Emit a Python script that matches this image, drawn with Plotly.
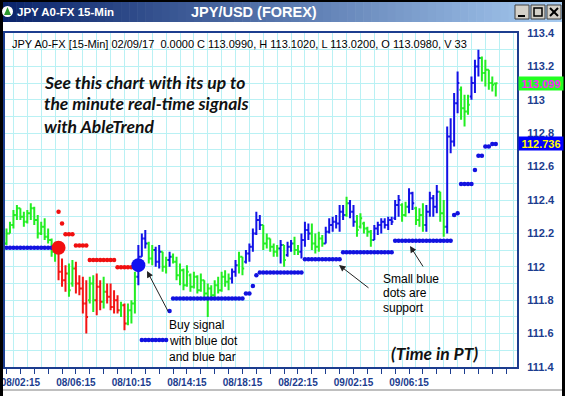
import plotly.graph_objects as go

# ---------------- data ----------------
highs = [112.23, 112.27, 112.34, 112.37, 112.35, 112.33, 112.34, 112.38, 112.36, 112.31,
         112.27, 112.29, 112.23, 112.17, 112.15, 112.11, 112.05, 112.01, 112.02, 112.04,
         112.03, 111.95, 111.94, 111.92, 111.94, 111.95, 111.96, 111.92, 111.94, 111.90,
         111.90, 111.86, 111.83, 111.79, 111.78, 111.78, 111.80, 111.97, 112.13, 112.20,
         112.22, 112.15, 112.13, 112.12, 112.13, 112.09, 112.06, 112.09, 112.08, 112.06,
         112.02, 111.99, 112.01, 111.96, 111.97, 111.95, 111.96, 111.92, 111.90, 111.89,
         111.92, 111.94, 111.97, 111.98, 111.96, 111.99, 112.04, 112.09, 112.06, 112.10,
         112.14, 112.23, 112.33, 112.31, 112.25, 112.20, 112.17, 112.14, 112.13, 112.16,
         112.13, 112.15, 112.16, 112.18, 112.13, 112.20, 112.27, 112.26, 112.26, 112.20,
         112.21, 112.19, 112.24, 112.29, 112.30, 112.31, 112.37, 112.37, 112.42, 112.40,
         112.37, 112.31, 112.32, 112.27, 112.24, 112.22, 112.25, 112.27, 112.29, 112.29,
         112.30, 112.30, 112.40, 112.43, 112.38, 112.39, 112.47, 112.45, 112.36, 112.35,
         112.38, 112.37, 112.45, 112.43, 112.49, 112.45, 112.40, 112.84, 112.89, 113.04,
         113.17, 113.08, 113.03, 113.03, 113.14, 113.24, 113.30, 113.26, 113.24, 113.18,
         113.14, 113.102]
lows = [112.13, 112.20, 112.23, 112.28, 112.28, 112.24, 112.26, 112.28, 112.25, 112.17,
        112.19, 112.16, 112.14, 112.06, 112.03, 111.92, 111.88, 111.85, 111.82, 111.88,
        111.84, 111.83, 111.72, 111.60, 111.78, 111.73, 111.71, 111.74, 111.75, 111.78,
        111.74, 111.72, 111.72, 111.70, 111.62, 111.65, 111.66, 111.72, 111.89, 112.06,
        112.11, 112.02, 112.01, 112.00, 111.99, 111.97, 111.96, 112.00, 112.02, 111.92,
        111.89, 111.86, 111.88, 111.85, 111.87, 111.84, 111.85, 111.82, 111.70, 111.81,
        111.82, 111.84, 111.85, 111.88, 111.86, 111.90, 111.94, 111.96, 111.95, 112.02,
        112.03, 112.09, 112.19, 112.22, 112.10, 112.11, 112.09, 112.06, 112.06, 112.02,
        112.00, 112.06, 112.09, 112.07, 112.07, 112.05, 112.12, 112.16, 112.10, 112.08,
        112.09, 112.12, 112.14, 112.20, 112.21, 112.23, 112.21, 112.28, 112.30, 112.29,
        112.24, 112.18, 112.23, 112.20, 112.18, 112.12, 112.16, 112.19, 112.20, 112.23,
        112.22, 112.25, 112.28, 112.30, 112.27, 112.30, 112.32, 112.34, 112.25, 112.24,
        112.21, 112.21, 112.30, 112.30, 112.32, 112.27, 112.18, 112.20, 112.68, 112.72,
        112.92, 112.88, 112.84, 112.91, 113.00, 113.04, 113.14, 113.11, 113.08, 113.06,
        113.05, 113.02]
opens = [112.14, 112.20, 112.25, 112.31, 112.35, 112.30, 112.27, 112.32, 112.35, 112.28,
         112.20, 112.24, 112.18, 112.16, 112.09, 112.10, 111.97, 111.92, 111.96, 111.90,
         111.99, 111.90, 111.87, 111.78, 111.80, 111.90, 111.80, 111.88, 111.79, 111.85,
         111.82, 111.76, 111.80, 111.74, 111.77, 111.66, 111.74, 111.78, 111.94, 112.06,
         112.17, 112.14, 112.05, 112.10, 112.03, 112.09, 112.00, 112.04, 112.06, 112.03,
         111.95, 111.98, 111.89, 111.95, 111.88, 111.94, 111.86, 111.92, 111.84, 111.87,
         111.83, 111.89, 111.86, 111.94, 111.91, 111.93, 111.97, 112.01, 112.06, 112.03,
         112.08, 112.12, 112.20, 112.28, 112.25, 112.14, 112.17, 112.12, 112.09, 112.11,
         112.13, 112.07, 112.12, 112.14, 112.10, 112.09, 112.16, 112.22, 112.20, 112.14,
         112.12, 112.17, 112.14, 112.21, 112.25, 112.27, 112.26, 112.33, 112.31, 112.38,
         112.33, 112.27, 112.24, 112.26, 112.23, 112.21, 112.16, 112.23, 112.25, 112.27,
         112.25, 112.28, 112.29, 112.37, 112.37, 112.31, 112.36, 112.44, 112.35, 112.28,
         112.31, 112.25, 112.33, 112.41, 112.36, 112.45, 112.32, 112.24, 112.78, 112.75,
         112.98, 113.06, 112.95, 112.93, 113.02, 113.10, 113.20, 113.25, 113.16, 113.18,
         113.10, 113.098]
closes = [112.20, 112.25, 112.31, 112.35, 112.30, 112.27, 112.32, 112.35, 112.28, 112.20,
          112.24, 112.18, 112.16, 112.09, 112.12, 111.97, 111.92, 111.96, 111.86, 111.99,
          111.90, 111.87, 111.78, 111.70, 111.90, 111.80, 111.88, 111.79, 111.85, 111.82,
          111.76, 111.80, 111.74, 111.77, 111.66, 111.74, 111.78, 111.94, 112.06, 112.17,
          112.14, 112.05, 112.10, 112.03, 112.09, 112.00, 112.04, 112.06, 112.03, 111.95,
          111.98, 111.89, 111.97, 111.88, 111.94, 111.86, 111.92, 111.84, 111.87, 111.83,
          111.89, 111.86, 111.94, 111.91, 111.93, 111.97, 112.01, 112.06, 111.99, 112.08,
          112.12, 112.20, 112.28, 112.25, 112.14, 112.17, 112.12, 112.09, 112.11, 112.13,
          112.04, 112.12, 112.14, 112.10, 112.09, 112.16, 112.22, 112.20, 112.14, 112.12,
          112.17, 112.14, 112.21, 112.25, 112.27, 112.26, 112.33, 112.31, 112.38, 112.33,
          112.27, 112.22, 112.29, 112.23, 112.21, 112.16, 112.23, 112.25, 112.27, 112.25,
          112.28, 112.27, 112.37, 112.40, 112.31, 112.36, 112.44, 112.38, 112.28, 112.31,
          112.25, 112.33, 112.41, 112.36, 112.45, 112.32, 112.24, 112.78, 112.75, 112.98,
          113.10, 112.95, 112.93, 112.97, 113.10, 113.20, 113.25, 113.16, 113.18, 113.10,
          113.09, 113.099]
# g = neutral (green), r = down trend (red), b = up trend (blue)
bar_colors = ("ggggggggggggggg" "rrr" "gg" "rrrr" "gg" "rr" "g" "rrrr" "g" "r" "ggg"
              "bbb" "gg" "bb" "gg" "b" "ggggggggggggggggg" "bb" "gg" "bbbbb" "ggggg"
              "b" "g" "bb" "gg" "bbb" "gggg" "bbbbbb" "g" "bb" "ggggg" "bbbbbbbb"
              "gg" "bb" "ggg" "bbbb" "gg" "bbbb" "ggg" "bbb" "ggggg")
volume_last = 33

_ = None
support = ([112.114] * 14 + [_] * 25 + [111.562] * 8 + [111.735] + [111.81] * 21 +
           [111.84] * 2 + [111.885] + [111.95] + [111.966] * 13 + [112.045] * 11 +
           [112.087] * 15 + [112.156] * 17 + [112.31, 112.32] + [112.496] * 4 +
           [112.58] + [112.665] * 2 + [112.72] * 2 + [112.736] * 2)
resistance = ([_] * 15 + [112.33, 112.26] + [112.195] * 3 + [112.127] * 4 +
              [112.04] * 8 + [111.997] * 5 + [_] * 105)
sell_signal_bar, sell_signal_price = 15, 112.114
buy_signal_bar, buy_signal_price = 38, 112.01

tick_bars = [4, 20, 36, 52, 68, 84, 100, 116]
tick_labels = ["08/02:15", "08/06:15", "08/10:15", "08/14:15",
               "08/18:15", "08/22:15", "09/02:15", "09/06:15"]

N = len(highs)
assert len(lows) == N and len(opens) == N and len(closes) == N
assert len(bar_colors) == N and len(support) == N and len(resistance) == N

# ---------------- styling ----------------
W, H = 565, 396
ML, MR, MT, MB = 5, 48, 33, 29
PW, PH = W - ML - MR, H - MT - MB
NAVY = "#1C3D8F"
GRID = "#B9F1F4"
COL = {"g": "#22EE22", "r": "#F21414", "b": "#1212E6"}
DOT_BLUE = "#1212E0"
DOT_RED = "#F01010"
FONT = "Liberation Sans"
ITAL = "Lato"


def PX(px):
    return (px - ML) / PW


def PY(py):
    return (H - MB - py) / PH


fig = go.Figure()

xs = list(range(N))
for code in "grb":
    idx = [i for i in xs if bar_colors[i] == code]
    fig.add_trace(go.Ohlc(
        x=idx,
        open=[opens[i] for i in idx], high=[highs[i] for i in idx],
        low=[lows[i] for i in idx], close=[closes[i] for i in idx],
        increasing=dict(line=dict(color=COL[code], width=2)),
        decreasing=dict(line=dict(color=COL[code], width=2)),
        tickwidth=0.5, hoverinfo="skip", showlegend=False))


def dotted(levels, color):
    dx, dy = [], []
    prev = None
    for i, v in enumerate(levels):
        if v is None:
            if prev is not None:
                dx.append(None); dy.append(None)
        else:
            if prev is not None and v != prev:
                dx.append(None); dy.append(None)
            dx.append(i); dy.append(v)
        prev = v
    return go.Scatter(x=dx, y=dy, mode="lines+markers", connectgaps=False,
                      line=dict(color=color, width=1.5),
                      marker=dict(color=color, size=4.5),
                      hoverinfo="skip", showlegend=False)


fig.add_trace(dotted(support, DOT_BLUE))
fig.add_trace(dotted(resistance, DOT_RED))
fig.add_trace(go.Scatter(x=[sell_signal_bar], y=[sell_signal_price], mode="markers",
                         marker=dict(color="#F21010", size=14), hoverinfo="skip",
                         showlegend=False))
fig.add_trace(go.Scatter(x=[buy_signal_bar], y=[buy_signal_price], mode="markers",
                         marker=dict(color="#1010F0", size=14), hoverinfo="skip",
                         showlegend=False))

# x range so that bar 0 sits at pixel 6.5 and spacing is 3.47 px
step = 3.47
x0 = -(6.5 - ML) / step
x1 = x0 + PW / step

all_ticks = list(range(0, N + 4, 4))
all_text = [tick_labels[tick_bars.index(t)] if t in tick_bars else "" for t in all_ticks]

fig.update_layout(
    width=W, height=H, margin=dict(l=ML, r=MR, t=MT, b=MB, pad=0, autoexpand=False),
    paper_bgcolor="white", plot_bgcolor="white", showlegend=False,
    xaxis=dict(range=[x0, x1], rangeslider=dict(visible=False), automargin=False,
               tickmode="array", tickvals=all_ticks, ticktext=all_text,
               ticks="outside", ticklen=5, tickwidth=1, tickcolor=NAVY,
               showgrid=False, zeroline=False,
               showline=True, linecolor=NAVY, linewidth=2, mirror=True,
               tickfont=dict(family=FONT, size=10, color=NAVY, weight="bold"),
               minor=dict(tickmode="linear", tick0=2, dtick=4, showgrid=True,
                          gridcolor=GRID, gridwidth=1, ticks="")),
    yaxis=dict(range=[111.4, 113.4], side="right", tickmode="linear", automargin=False,
               tick0=111.4, dtick=0.2, ticks="outside", ticklen=6,
               tickcolor="rgba(0,0,0,0)", showgrid=True, gridcolor=GRID,
               zeroline=False, showline=True, linecolor=NAVY, linewidth=2,
               mirror=True,
               tickfont=dict(family=FONT, size=11, color=NAVY, weight="bold"),
               minor=dict(tickmode="linear", tick0=111.4, dtick=0.1,
                          showgrid=True, gridcolor=GRID, gridwidth=1, ticks="")),
)

shapes = []
# title bar gradient
n = 70
c0, c1 = (10, 36, 106), (166, 202, 240)
for k in range(n):
    t = k / (n - 1)
    c = tuple(round(c0[j] + (c1[j] - c0[j]) * t) for j in range(3))
    shapes.append(dict(type="rect", xref="paper", yref="paper",
                       x0=PX(W * k / n), x1=PX(W * (k + 1) / n + 0.6),
                       y0=PY(22), y1=PY(2), line=dict(width=0),
                       fillcolor="rgb(%d,%d,%d)" % c, layer="above"))
# window frame
for (a, top, c, bot) in [(0, 0, W, 2), (0, 0, 3, H), (W - 3, 0, W, H)]:
    shapes.append(dict(type="rect", xref="paper", yref="paper",
                       x0=PX(a), x1=PX(c), y0=PY(bot), y1=PY(top),
                       line=dict(width=0), fillcolor="black", layer="above"))
shapes.append(dict(type="line", xref="paper", yref="paper", x0=PX(3), x1=PX(W - 3),
                   y0=PY(390), y1=PY(390), line=dict(color="#808080", width=1)))
# window buttons
for bx in (515, 531, 547):
    shapes.append(dict(type="rect", xref="paper", yref="paper",
                       x0=PX(bx), x1=PX(bx + 14), y0=PY(19), y1=PY(5),
                       line=dict(color="#404040", width=1), fillcolor="#D4D0C8",
                       layer="above"))
shapes.append(dict(type="line", xref="paper", yref="paper", x0=PX(518), x1=PX(525),
                   y0=PY(16), y1=PY(16), line=dict(color="black", width=2),
                   layer="above"))
shapes.append(dict(type="rect", xref="paper", yref="paper", x0=PX(534), x1=PX(542),
                   y0=PY(16), y1=PY(8), line=dict(color="black", width=1.5),
                   layer="above"))
shapes.append(dict(type="line", xref="paper", yref="paper", x0=PX(550), x1=PX(558),
                   y0=PY(16), y1=PY(8), line=dict(color="black", width=2),
                   layer="above"))
shapes.append(dict(type="line", xref="paper", yref="paper", x0=PX(550), x1=PX(558),
                   y0=PY(8), y1=PY(16), line=dict(color="black", width=2),
                   layer="above"))
# title icon
shapes.append(dict(type="circle", xref="paper", yref="paper", x0=PX(2), x1=PX(13),
                   y0=PY(17), y1=PY(6), line=dict(width=0), fillcolor="white",
                   layer="above"))
shapes.append(dict(type="path", xref="paper", yref="paper",
                   path="M %f %f L %f %f L %f %f Z" % (PX(4), PY(15), PX(7.5), PY(7),
                                                      PX(11), PY(15)),
                   line=dict(width=0), fillcolor="#2E9A2E", layer="above"))
fig.update_layout(shapes=shapes)

ann = []


def text(px, py, s, size=12, color="black", family=FONT, xanchor="left",
         weight="normal", style="normal"):
    ann.append(dict(xref="paper", yref="paper", x=PX(px), y=PY(py), text=s,
                    showarrow=False, xanchor=xanchor, yanchor="middle",
                    font=dict(family=family, size=size, color=color, weight=weight,
                              style=style)))


text(15, 12, "JPY A0-FX 15-Min", size=11.5, color="white", weight="bold")
text(254, 12, "JPY/USD (FOREX)", size=14.5, color="white", weight="bold",
     xanchor="center")
hdr = ("JPY A0-FX [15-Min] 02/09/17  0.0000 C %.4f, H %.4f, L %.4f, O %.4f, V %d"
       % (closes[-1], highs[-1], lows[-1], opens[-1], volume_last))
text(10, 44.5, hdr, size=11)
for k, line in enumerate(["See this chart with its up to",
                          "the minute real-time signals", "with AbleTrend"]):
    text(42, 82 + 22 * k, line, size=17.5, family=ITAL, weight="bold",
         style="italic", color="#111111")
text(434, 353, "(Time in PT)", size=17.5, family=ITAL, weight="bold",
     style="italic", color="#111111", xanchor="center")
text(167, 325, "Buy signal", size=12)
text(167, 341, "with blue dot", size=12)
text(167, 357, "and blue bar", size=12)
text(381, 278.5, "Small blue", size=12)
text(381, 293, "dots are", size=12)
text(381, 307.5, "support", size=12)


def arrow(hx, hy, tx, ty):
    ann.append(dict(xref="paper", yref="paper", x=PX(hx), y=PY(hy),
                    ax=tx - hx, ay=ty - hy, axref="pixel", ayref="pixel", text="",
                    showarrow=True, arrowhead=2, arrowsize=1.3, arrowwidth=1,
                    arrowcolor="#222222"))


arrow(147, 271, 169, 313)
arrow(339, 265, 370, 289)
arrow(410, 246, 424, 268)

# price boxes on the right axis
ann.append(dict(xref="paper", yref="y", x=1, y=closes[-1], xanchor="left",
                yanchor="middle", xshift=1, text="%.3f" % closes[-1], showarrow=False,
                bgcolor="#22FF22", width=44, height=13, borderpad=0,
                font=dict(family=FONT, size=11, color="#FF22FF", weight="bold")))
ann.append(dict(xref="paper", yref="y", x=1, y=support[-1], xanchor="left",
                yanchor="middle", xshift=1, text="%.3f" % support[-1], showarrow=False,
                bgcolor="#0000FF", width=44, height=13, borderpad=0,
                font=dict(family=FONT, size=11, color="#FFFF00", weight="bold")))
fig.update_layout(annotations=ann)

fig.write_html("out.html", config={"displayModeBar": False},
               post_script="document.body.style.margin='0';"
                           "document.body.style.padding='0';")
